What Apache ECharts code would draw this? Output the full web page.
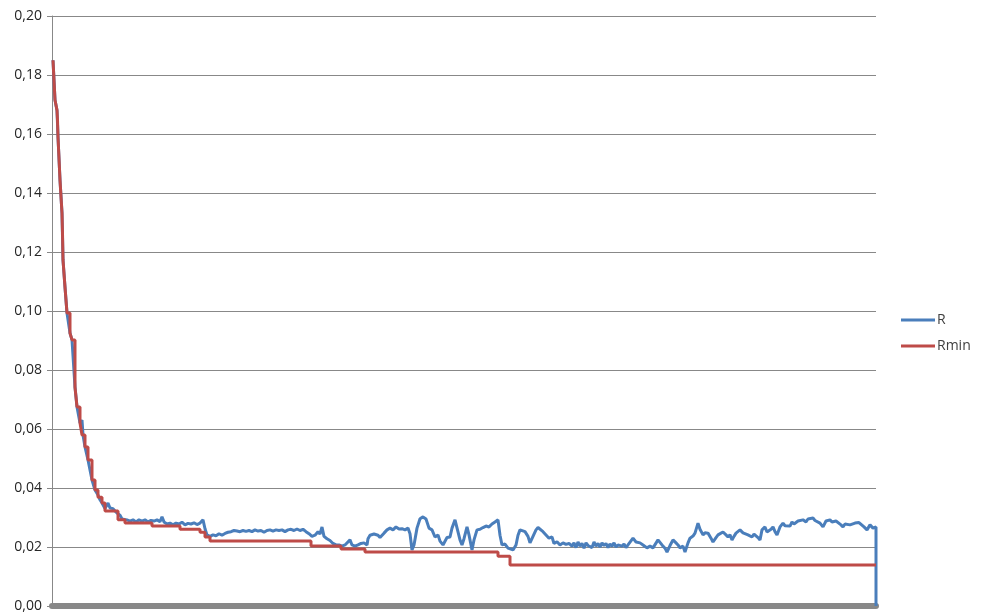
<!DOCTYPE html>
<html>
<head>
<meta charset="utf-8">
<script src="https://cdn.jsdelivr.net/npm/echarts@6/dist/echarts.min.js"></script>
<style>html,body{margin:0;padding:0;background:#fff}#c{width:986px;height:613px}</style>
</head>
<body>
<div id="c"></div>
<script>
// sample index (0..824) and values
const seriesNames = ['R', 'Rmin'];
const yTicks = [0, 0.02, 0.04, 0.06, 0.08, 0.10, 0.12, 0.14, 0.16, 0.18, 0.20];

const rValues = [
[1,0.185],[3,0.1715],[5,0.168],[6,0.159],[8,0.1444],[10,0.1332],[11,0.1173],[13,0.1081],[15,0.0993],
[18,0.0925],[20,0.0902],[23,0.0742],[25,0.0675],[28,0.062],[30,0.063],[31,0.058],[33,0.0539],[36,0.0495],[40,0.0427],
[43,0.0393],[46,0.0376],[48,0.036],[50,0.0349],[53,0.033],[56,0.0349],[58,0.0332],[61,0.033],[63,0.0322],[65,0.0315],
[68,0.0308],[70,0.0295],[72,0.029],[75,0.0292],[78,0.0288],[81,0.0292],[84,0.0285],[87,0.0292],[90,0.0288],[93,0.0292],
[96,0.0285],[99,0.029],[102,0.0288],[105,0.0292],[108,0.0286],[110,0.0302],[112,0.0285],[115,0.0278],[118,0.0281],[121,0.0275],
[124,0.0281],[127,0.0278],[130,0.0284],[133,0.0275],[136,0.028],[139,0.0278],[142,0.0282],[145,0.0276],[148,0.0281],[150,0.0278],
[151,0.0292],[153,0.0262],[155,0.0241],[158,0.0236],[161,0.0241],[164,0.0238],[167,0.0245],[170,0.024],[173,0.0246],[176,0.025],
[179,0.0252],[182,0.0256],[185,0.0254],[188,0.0252],[191,0.0256],[194,0.0253],[197,0.0256],[200,0.0252],[203,0.0258],[206,0.0254],
[209,0.0256],[212,0.025],[215,0.0256],[218,0.0258],[221,0.0254],[224,0.0258],[227,0.0256],[230,0.0258],[233,0.0252],[236,0.0258],
[239,0.026],[242,0.0256],[245,0.0261],[248,0.0256],[251,0.026],[254,0.0252],[257,0.0245],[260,0.0236],[263,0.024],[266,0.0252],
[268,0.0244],[270,0.0268],[272,0.0236],[275,0.0228],[278,0.0222],[281,0.0212],[284,0.0207],[287,0.0207],[290,0.0203],[293,0.0207],
[295,0.0212],[298,0.0224],[300,0.0207],[303,0.0203],[306,0.0207],[309,0.0212],[312,0.0214],[315,0.0207],[316,0.0228],[318,0.024],
[320,0.0234],[322,0.0244],[324,0.0245],[326,0.024],[328,0.0232],[330,0.0236],[332,0.0247],[335,0.0258],[338,0.0264],[341,0.0258],
[344,0.0268],[347,0.0261],[350,0.0262],[353,0.0258],[356,0.0264],[358,0.0245],[360,0.019],[362,0.0207],[365,0.0264],[368,0.0296],
[371,0.0302],[374,0.0295],[377,0.0264],[380,0.0258],[383,0.0234],[386,0.0241],[388,0.022],[391,0.0207],[393,0.0207],[395,0.0232],
[398,0.0234],[400,0.0264],[403,0.0292],[405,0.0295],[408,0.0224],[410,0.0207],[412,0.0228],[415,0.0268],[417,0.0241],[420,0.019],
[422,0.0224],[425,0.0258],[428,0.026],[431,0.0266],[434,0.0271],[437,0.0268],[440,0.0278],[443,0.0285],[446,0.0292],[448,0.024],
[450,0.0207],[453,0.021],[456,0.0196],[458,0.0202],[461,0.019],[464,0.0207],[466,0.024],[468,0.0258],[470,0.0264],[473,0.0252],
[476,0.0236],[478,0.0214],[481,0.0236],[484,0.0258],[486,0.0266],[488,0.0264],[491,0.0252],[494,0.0241],[497,0.023],[500,0.0234],
[502,0.0212],[505,0.0218],[508,0.0207],[511,0.0214],[514,0.0209],[517,0.0212],[520,0.0203],[522,0.0214],[524,0.0198],[526,0.0217],
[528,0.0203],[530,0.0212],[532,0.0196],[534,0.0214],[536,0.0205],[538,0.021],[540,0.0198],[542,0.0217],[544,0.0203],[546,0.0212],
[548,0.02],[550,0.0214],[552,0.0205],[554,0.0212],[556,0.0198],[558,0.021],[560,0.0203],[562,0.0214],[564,0.02],[566,0.0207],
[568,0.0212],[570,0.0203],[572,0.021],[574,0.0198],[576,0.0207],[578,0.0212],[581,0.023],[584,0.0217],[588,0.0214],[591,0.0207],
[595,0.0197],[598,0.0203],[601,0.0197],[606,0.0224],[610,0.0207],[613,0.0196],[615,0.0183],[618,0.0205],[621,0.0224],[624,0.0214],
[626,0.0207],[628,0.0197],[631,0.0203],[633,0.0183],[636,0.0214],[638,0.023],[641,0.0237],[643,0.0247],[646,0.0281],[648,0.026],
[651,0.0241],[653,0.0248],[656,0.0247],[659,0.023],[661,0.0217],[664,0.0232],[666,0.0241],[668,0.0236],[671,0.0251],[674,0.0241],
[676,0.0234],[678,0.0241],[680,0.0224],[682,0.0236],[684,0.0247],[686,0.0251],[688,0.0258],[691,0.0248],[693,0.0244],[696,0.0241],
[700,0.0234],[702,0.0244],[704,0.0241],[706,0.0232],[708,0.0224],[710,0.0258],[713,0.0268],[715,0.0251],[717,0.0251],[719,0.026],
[721,0.0268],[723,0.0252],[725,0.0241],[728,0.0268],[731,0.0281],[733,0.0272],[735,0.0275],[738,0.0271],[740,0.0285],[742,0.0278],
[744,0.0278],[746,0.0288],[748,0.0288],[751,0.0292],[754,0.0285],[756,0.0295],[758,0.0295],[761,0.0298],[763,0.029],[765,0.0292],
[768,0.0281],[771,0.0268],[774,0.0288],[776,0.0283],[778,0.0292],[780,0.0285],[782,0.0281],[784,0.0288],[786,0.0285],[789,0.0275],
[791,0.0268],[793,0.0278],[795,0.0281],[798,0.0275],[800,0.0271],[803,0.0281],[805,0.0275],[807,0.0283],[809,0.0278],[812,0.0268],
[815,0.0258],[818,0.0275],[821,0.0264],[823,0.0268],[824,0.0268],[824,0]
];

const rminValues = [
[1,0.185],[3,0.1715],[5,0.168],[5.5,0.1647],[6,0.159],[8,0.1444],[10,0.1332],[10.5,0.1264],[11,0.1173],[13,0.1081],
[15,0.0993],[18,0.0925],[20,0.0902],[23,0.0742],[25,0.0675],[28,0.062],[30,0.058],[33,0.0539],[36,0.0495],[40,0.0427],
[43,0.0393],[46,0.0369],[50,0.0349],[53,0.0322],[66,0.0292],[73,0.0281],[100,0.0271],[128,0.026],[148,0.025],[153,0.0234],
[158,0.022],[259,0.0203],[289,0.0193],[313,0.0183],[446,0.0169],[458,0.0139],[824,0.0139]
];

const chart = echarts.init(document.getElementById('c'), null, {renderer: 'canvas'});
const font = '"Open Sans", "Liberation Sans", "Noto Sans", sans-serif';
chart.setOption({
  animation: false,
  backgroundColor: '#ffffff',
  grid: {left: 52, right: 110, top: 16, bottom: 7, containLabel: false},
  legend: {
    orient: 'vertical', left: 896, top: 308,
    icon: 'rect', itemWidth: 34, itemHeight: 3, itemGap: 12,
    textStyle: {fontFamily: font, fontSize: 14, color: '#404040', padding: [0,0,0,-3]},
    data: seriesNames
  },
  xAxis: {
    type: 'value', min: 0, max: 824, offset: 3,
    axisLine: {show: true, lineStyle: {color: '#888888', width: 6}},
    axisTick: {show: false}, axisLabel: {show: false}, splitLine: {show: false}
  },
  yAxis: {
    type: 'value', min: 0, max: 0.2, interval: 0.02,
    axisLine: {show: true, lineStyle: {color: '#888888', width: 1}},
    axisTick: {show: true, length: 5, lineStyle: {color: '#888888'}},
    axisLabel: {margin: 10, fontFamily: font, fontSize: 14, color: '#262626',
      formatter: v => v.toFixed(2).replace('.', ',')},
    splitLine: {show: true, lineStyle: {color: '#888888', width: 1}}
  },
  series: [
    {name: seriesNames[0], type: 'line', data: rValues, showSymbol: false, symbol: 'none',
     lineStyle: {color: '#4a7ebb', width: 3}, itemStyle: {color: '#4a7ebb'}},
    {name: seriesNames[1], type: 'line', data: rminValues, showSymbol: false, symbol: 'none', step: 'end',
     lineStyle: {color: '#be4b48', width: 3}, itemStyle: {color: '#be4b48'}}
  ]
});
</script>
</body>
</html>
